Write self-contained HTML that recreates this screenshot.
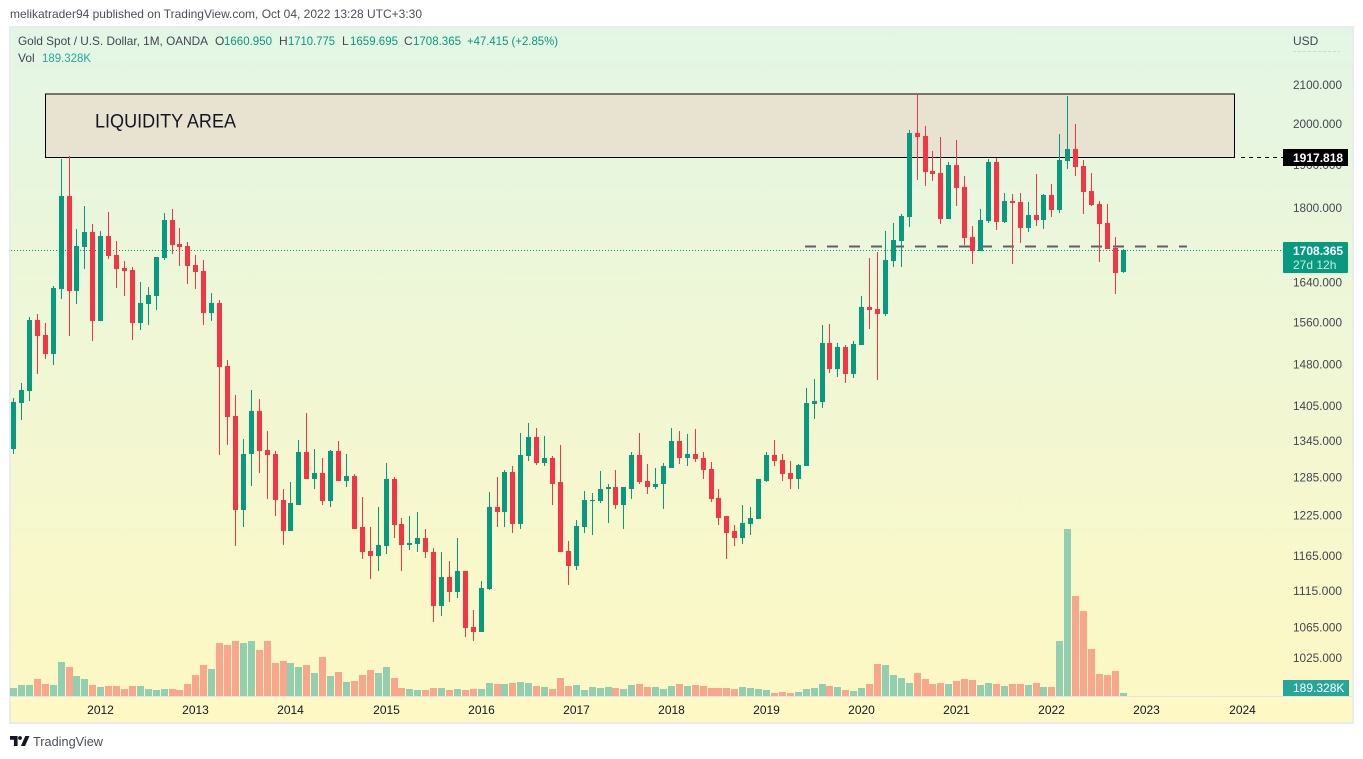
<!DOCTYPE html>
<html lang="en">
<head>
<meta charset="utf-8">
<title>Gold Spot / U.S. Dollar chart</title>
<style>
html,body{margin:0;padding:0;background:#fff;width:1363px;height:759px;overflow:hidden}
svg{display:block;font-family:"Liberation Sans",sans-serif}
</style>
</head>
<body>
<svg id="chart" xmlns="http://www.w3.org/2000/svg" width="1363" height="759" viewBox="0 0 1363 759">
  <defs>
    <linearGradient id="bg" gradientUnits="userSpaceOnUse" x1="0" y1="27" x2="0" y2="723">
      <stop offset="0" stop-color="#e3f6e5"/>
      <stop offset="1" stop-color="#fef8c3"/>
    </linearGradient>
  </defs>
  <text x="10" y="18" font-size="12" fill="#4a4e5a" textLength="412" lengthAdjust="spacingAndGlyphs">melikatrader94 published on TradingView.com, Oct 04, 2022 13:28 UTC+3:30</text>
  <rect x="10" y="27" width="1343" height="696" fill="url(#bg)" stroke="#e9ebef" stroke-width="2"/>

  <rect x="45.5" y="94" width="1189" height="63.5" fill="#e8e2d0" stroke="#000" stroke-width="1"/>
  <text x="95" y="127.5" font-size="19" fill="#131722" textLength="141" lengthAdjust="spacingAndGlyphs">LIQUIDITY AREA</text>
  <line x1="1241" y1="157.5" x2="1283" y2="157.5" stroke="#000" stroke-width="1" stroke-dasharray="4 4"/>
  <line x1="805" y1="246.5" x2="1187" y2="246.5" stroke="#5d606b" stroke-width="2" stroke-dasharray="11 11"/>
  <line x1="11" y1="250.5" x2="1283" y2="250.5" stroke="#089981" stroke-width="1" stroke-dasharray="1 2"/>
  <line x1="11" y1="696.5" x2="1352" y2="696.5" stroke="#dfe3ea" stroke-width="1"/>

  <g id="volumes" shape-rendering="crispEdges"></g>
  <g id="candles" shape-rendering="crispEdges"></g>
  <g id="priceAxis"></g>
  <g id="timeAxis"></g>

  <text x="1293" y="45" font-size="12" fill="#434651">USD</text>
  <line x1="1293" y1="51.5" x2="1340" y2="51.5" stroke="#cfd6d4" stroke-width="1" stroke-dasharray="3 2"/>

  <rect x="1283" y="149" width="65" height="17" fill="#000"/>
  <text x="1293" y="162" font-size="12" font-weight="bold" fill="#fff">1917.818</text>
  <rect x="1283" y="242" width="65" height="31" rx="1" fill="#089981"/>
  <text x="1293" y="255" font-size="12" font-weight="bold" fill="#fff">1708.365</text>
  <text x="1293" y="269" font-size="12" fill="#c9ebe2">27d 12h</text>
  <rect x="1283" y="680" width="66" height="16" fill="#26a69a"/>
  <text x="1293" y="692" font-size="12" fill="#fff">189.328K</text>

  <g font-size="12">
    <text x="18" y="45" fill="#434651" textLength="190" lengthAdjust="spacingAndGlyphs">Gold Spot / U.S. Dollar, 1M, OANDA</text>
    <text x="215" y="45" fill="#434651">O</text>
    <text x="224" y="45" fill="#089981" textLength="48" lengthAdjust="spacingAndGlyphs">1660.950</text>
    <text x="279" y="45" fill="#434651">H</text>
    <text x="288" y="45" fill="#089981" textLength="47" lengthAdjust="spacingAndGlyphs">1710.775</text>
    <text x="342" y="45" fill="#434651">L</text>
    <text x="350" y="45" fill="#089981" textLength="48" lengthAdjust="spacingAndGlyphs">1659.695</text>
    <text x="404" y="45" fill="#434651">C</text>
    <text x="413" y="45" fill="#089981" textLength="48" lengthAdjust="spacingAndGlyphs">1708.365</text>
    <text x="467" y="45" fill="#089981" textLength="91" lengthAdjust="spacingAndGlyphs">+47.415 (+2.85%)</text>
    <text x="18" y="62" fill="#434651">Vol</text>
    <text x="42" y="62" fill="#26a69a" textLength="49" lengthAdjust="spacingAndGlyphs">189.328K</text>
  </g>

  <g fill="#131722">
    <path d="M10 736h7.6v10h-3.7v-6.3H10z"/>
    <circle cx="20" cy="738" r="1.9"/>
    <path d="M29.5 736L25 746h-4.1l4.4-10z"/>
  </g>
  <text x="33" y="746" font-size="13" fill="#4a4e5a" textLength="70" lengthAdjust="spacingAndGlyphs">TradingView</text>
</svg>

<script>
const opens = [1331,1410,1431,1564,1535,1499,1627,1828,1623,1715,
1747,1563,1738,1697,1670,1665,1559,1596,1612,1691,
1773,1721,1717,1676,1663,1578,1598,1477,1387,1233,
1323,1396,1330,1323,1250,1202,1242,1326,1282,1292,
1247,1328,1280,1287,1207,1172,1165,1180,1283,1213,
1181,1183,1191,1171,1094,1134,1113,1143,1065,1059,
1117,1238,1231,1293,1213,1320,1352,1308,1316,1277,
1172,1150,1208,1247,1247,1266,1269,1241,1267,1321,
1280,1269,1274,1301,1345,1316,1324,1316,1298,1253,
1224,1201,1191,1213,1220,1280,1321,1313,1292,1282,
1303,1409,1412,1520,1471,1512,1462,1516,1590,1586,
1576,1684,1727,1781,1977,1970,1886,1881,1776,1900,
1848,1736,1706,1771,1907,1769,1816,1814,1755,1785,
1773,1830,1796,1909,1938,1897,1839,1809,1767,1713,
1660.95];
const highs = [1419,1447,1570,1576,1559,1633,1914,1922,1753,1805,
1764,1749,1792,1727,1684,1672,1641,1631,1693,1789,
1798,1755,1725,1697,1686,1618,1604,1488,1424,1348,
1433,1417,1362,1328,1267,1278,1346,1393,1331,1316,
1330,1345,1323,1290,1254,1207,1238,1308,1285,1222,
1224,1231,1205,1176,1170,1157,1191,1143,1088,1129,
1262,1285,1297,1303,1358,1375,1367,1353,1320,1338,
1187,1219,1264,1261,1295,1274,1297,1270,1326,1358,
1306,1300,1308,1367,1362,1357,1365,1326,1310,1266,
1224,1211,1242,1238,1283,1326,1346,1324,1311,1306,
1438,1453,1555,1557,1520,1516,1525,1612,1691,1704,
1749,1767,1787,1985,2076,1994,1934,1967,1907,1960,
1874,1760,1798,1914,1917,1835,1832,1835,1814,1878,
1832,1855,1974,2071,1999,1912,1881,1816,1809,1736,
1710.775];
const lows = [1324,1380,1414,1462,1491,1479,1606,1533,1596,1668,
1524,1563,1689,1629,1612,1527,1545,1555,1584,1686,
1699,1674,1637,1627,1555,1563,1321,1338,1180,1208,
1272,1292,1251,1225,1181,1202,1241,1282,1267,1242,
1239,1280,1269,1204,1161,1131,1143,1167,1191,1143,
1174,1170,1162,1072,1081,1099,1105,1052,1047,1059,
1116,1207,1208,1199,1205,1311,1305,1303,1241,1170,
1123,1145,1198,1195,1244,1214,1236,1204,1251,1275,
1259,1266,1236,1301,1306,1303,1310,1282,1246,1211,
1160,1180,1183,1196,1220,1277,1303,1280,1266,1266,
1303,1382,1401,1464,1458,1446,1455,1516,1547,1451,
1572,1672,1672,1758,1864,1851,1862,1764,1776,1805,
1719,1678,1706,1767,1751,1767,1678,1723,1747,1760,
1753,1781,1789,1890,1874,1787,1805,1682,1711,1616,
1659.695];
const closes = [1412,1433,1564,1533,1499,1629,1828,1623,1717,1747,
1563,1738,1695,1668,1663,1559,1598,1614,1693,1773,
1719,1715,1674,1661,1578,1598,1475,1386,1233,1324,
1396,1328,1321,1249,1202,1244,1326,1282,1292,1247,
1328,1280,1287,1205,1171,1165,1181,1283,1211,1181,
1184,1191,1170,1094,1134,1113,1143,1064,1059,1119,
1238,1231,1293,1213,1321,1352,1308,1316,1275,1171,
1150,1210,1249,1249,1267,1269,1241,1269,1321,1278,
1269,1275,1303,1345,1316,1324,1315,1297,1251,1222,
1199,1191,1214,1222,1282,1321,1311,1290,1282,1305,
1410,1414,1520,1471,1512,1462,1518,1590,1584,1576,
1686,1730,1783,1977,1967,1883,1878,1776,1900,1846,
1734,1706,1773,1907,1769,1816,1812,1755,1785,1773,
1830,1796,1912,1938,1895,1837,1807,1764,1711,1659,
1708.365];
const volumesK = [504,693,693,1071,756,693,2142,1827,1260,1071,
693,567,630,630,441,630,630,441,378,441,
441,378,756,1323,1953,1701,3339,3213,3465,3339,
3465,2898,3465,2079,2205,2079,1827,1953,1449,2457,
1260,1512,882,945,1323,1638,1449,1827,1134,504,
441,378,378,504,504,378,441,378,441,441,
819,756,756,819,882,819,630,567,441,1134,
630,693,378,567,504,567,504,441,693,756,
567,567,441,630,756,630,693,630,504,504,
504,441,567,504,441,378,189,252,189,252,
441,504,756,630,567,378,315,504,756,2016,
1953,1323,1134,819,1449,1071,756,819,756,945,
1071,1008,693,819,756,630,756,756,693,819,
567,567,3465,10521,6300,5355,2961,1386,1323,1575,189.328];
const priceTicks = [2100,2000,1900,1800,1700,1640,1560,1480,1405,1345,1285,1225,1165,1115,1065,1025];
const yearLabels = ["2012","2013","2014","2015","2016","2017","2018","2019","2020","2021","2022","2023","2024"];
const firstJanuaryIndex = 11;
const monthsPerYear = 12;

const SVGNS = "http://www.w3.org/2000/svg";
const UP = "#089981";
const DOWN = "#f23645";
const VOL_UP = "#92cfb0";
const VOL_DOWN = "#f8a68c";

function xScale(i) { return Math.round(13.052 + 7.926 * i); }
function yScale(price) { return 85 + 799 * Math.log(2100 / price); }
function volHeight(v) { return Math.round(v / 63); }
const VOL_BASE = 696;

function makeRect(x, y, w, h, fill) {
  const r = document.createElementNS(SVGNS, "rect");
  r.setAttribute("x", x);
  r.setAttribute("y", y);
  r.setAttribute("width", w);
  r.setAttribute("height", h);
  r.setAttribute("fill", fill);
  return r;
}

const candleLayer = document.getElementById("candles");
const volumeLayer = document.getElementById("volumes");
const priceLayer = document.getElementById("priceAxis");
const timeLayer = document.getElementById("timeAxis");

closes.forEach(function (close, i) {
  const open = opens[i];
  const up = close >= open;
  const col = xScale(i);

  const h = volHeight(volumesK[i]);
  const vol = makeRect(col - 3, VOL_BASE - h, 7, h, up ? VOL_UP : VOL_DOWN);
  
  
  volumeLayer.appendChild(vol);

  const wickTop = Math.round(yScale(highs[i]));
  const wickBottom = Math.round(yScale(lows[i]));
  const wick = makeRect(col, wickTop, 1, Math.max(1, wickBottom - wickTop), up ? UP : DOWN);
  
  
  candleLayer.appendChild(wick);

  const bodyTop = Math.round(yScale(Math.max(open, close)));
  const bodyBottom = Math.round(yScale(Math.min(open, close)));
  const body = makeRect(col - 2, bodyTop, 5, Math.max(1, bodyBottom - bodyTop), up ? UP : DOWN);
  
  
  candleLayer.appendChild(body);
});

priceTicks.forEach(function (tick) {
  const t = document.createElementNS(SVGNS, "text");
  t.setAttribute("x", 1293);
  t.setAttribute("y", yScale(tick) + 4);
  t.setAttribute("font-size", 12);
  t.setAttribute("fill", "#434651");
  t.setAttribute("textLength", 49);
  t.setAttribute("lengthAdjust", "spacingAndGlyphs");
  
  
  t.textContent = tick.toFixed(3);
  priceLayer.appendChild(t);
});

yearLabels.forEach(function (label, k) {
  const t = document.createElementNS(SVGNS, "text");
  t.setAttribute("x", xScale(firstJanuaryIndex + k * monthsPerYear) + 0.5);
  t.setAttribute("y", 714);
  t.setAttribute("font-size", 12);
  t.setAttribute("text-anchor", "middle");
  t.setAttribute("fill", "#131722");
  
  
  t.textContent = label;
  timeLayer.appendChild(t);
});
</script>
</body>
</html>
